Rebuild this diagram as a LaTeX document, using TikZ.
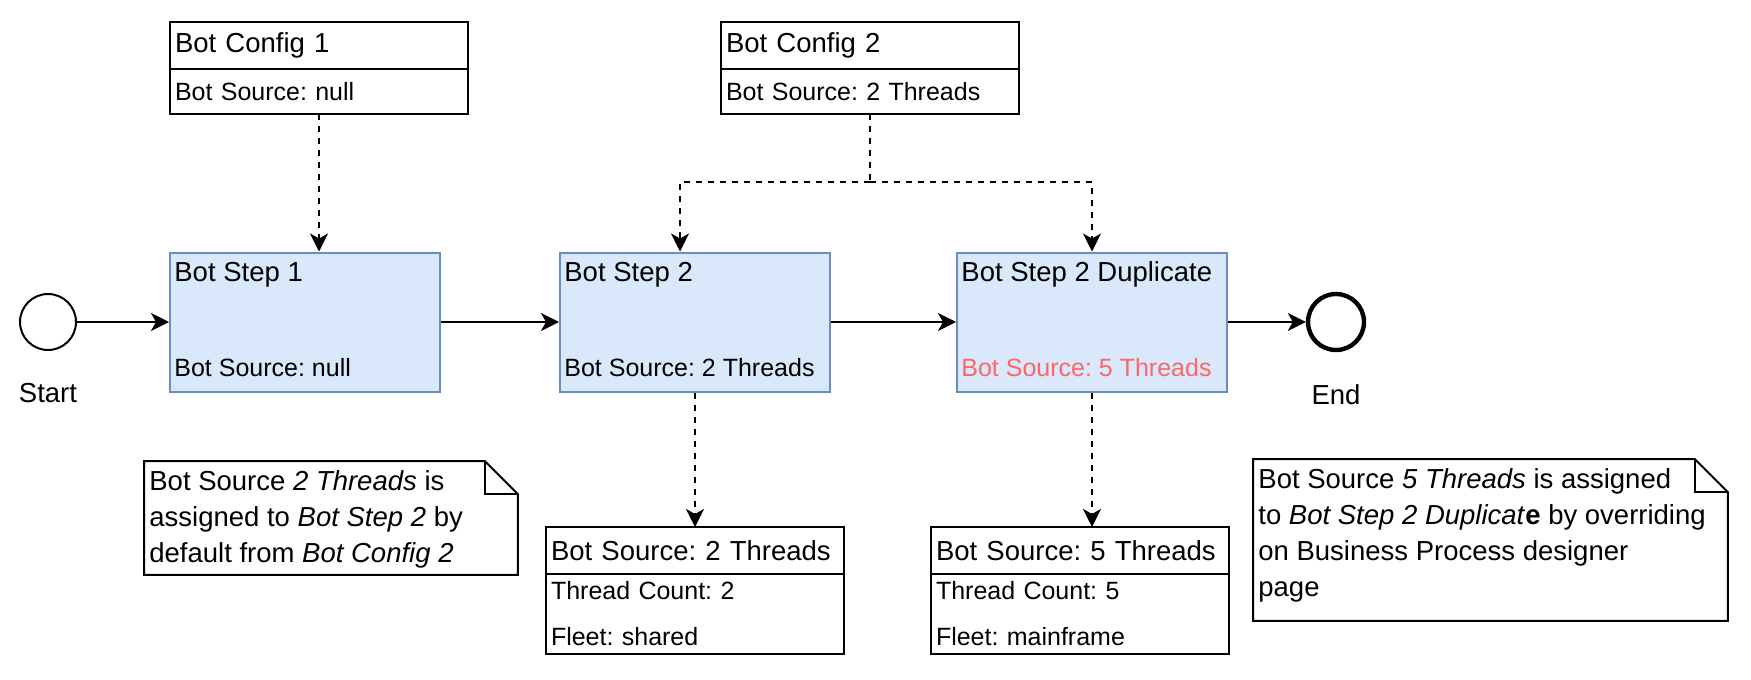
\documentclass[tikz,border=0pt]{standalone}
\usepackage{fontspec}
\setmainfont{Liberation Sans}
\frenchspacing
\usetikzlibrary{arrows.meta,positioning}

\definecolor{stepfill}{HTML}{DAE8FC}
\definecolor{stepline}{HTML}{6C8EBF}
\definecolor{override}{HTML}{FF6666}

\tikzset{
  big/.style={font=\fontsize{13.75}{18}\selectfont},
  small/.style={font=\fontsize{12.5}{23}\selectfont},
  box/.style={draw, line width=1pt, align=left, inner xsep=2.5pt, inner ysep=0pt, outer sep=0pt},
  cfghead/.style={box, big, text width=144pt, minimum height=23.5pt},
  cfgbody/.style={box, small, text width=144pt, minimum height=22.5pt},
  stepbox/.style={draw=stepline, fill=stepfill, line width=1pt, minimum width=135pt, minimum height=69.5pt},
  event/.style={circle, draw, line width=1pt, minimum size=28pt, inner sep=0pt},
  flow/.style={line width=1pt, -{Stealth[length=9pt, width=9pt, inset=2.5pt]}},
  assoc/.style={flow, dash pattern=on 3pt off 3pt},
  txt/.style={inner sep=0pt, anchor=west},
  note/.style={minimum width=#1, inner sep=0pt}
}

\begin{document}
\begin{tikzpicture}[x=0.5pt, y=-0.5pt]
 \useasboundingbox (0,0) rectangle (1751,680);

 % configs on top
 \node[cfghead, anchor=north west] (cfgAhead) at (170,22) {Bot Config 1};
 \node[cfgbody, anchor=north] (cfgAbody) at (cfgAhead.south) {Bot Source: null};
 \node[cfghead, anchor=north west] (cfgBhead) at (721,22) {Bot Config 2};
 \node[cfgbody, anchor=north] (cfgBbody) at (cfgBhead.south) {Bot Source: 2 Threads};

 % process
 \node[event] (start) at (48,322) {};
 \node[big, below=16pt of start, inner sep=0pt] (startlbl) {Start};
 \node[stepbox] (step1) at (305,322) {};
 \node[stepbox] (step2) at (695,322) {};
 \node[stepbox] (step3) at (1092,322) {};
 \node[event, line width=2.2pt] (end) at (1336,322) {};
 \node[big, below=16pt of end, inner sep=0pt] (endlbl) {End};

 \node[txt, big] (step1t) at ([xshift=2.5pt,yshift=-11.5pt]step1.north west) {Bot Step 1};
 \node[txt, small] (step1s) at ([xshift=2.5pt,yshift=12.5pt]step1.south west) {Bot Source: null};
 \node[txt, big] (step2t) at ([xshift=2.5pt,yshift=-11.5pt]step2.north west) {Bot Step 2};
 \node[txt, small] (step2s) at ([xshift=2.5pt,yshift=12.5pt]step2.south west) {Bot Source: 2 Threads};
 \node[txt, big] (step3t) at ([xshift=2.5pt,yshift=-11.5pt]step3.north west) {Bot Step 2 Duplicate};
 \node[txt, small, text=override] (step3s) at ([xshift=2.5pt,yshift=12.5pt]step3.south west) {Bot Source: 5 Threads};

 % bot sources
 \node[cfghead, anchor=north] (srcAhead) at (695,527) {Bot Source: 2 Threads};
 \node[cfgbody, anchor=north, minimum height=40pt] (srcAbody) at (srcAhead.south) {Thread Count: 2\\Fleet: shared};
 \node[cfghead, anchor=north west] (srcBhead) at (931,527) {Bot Source: 5 Threads};
 \node[cfgbody, anchor=north, minimum height=40pt] (srcBbody) at (srcBhead.south) {Thread Count: 5\\Fleet: mainframe};

 % notes
 \node[note=186.5pt, minimum height=56.5pt, anchor=north west] (noteA) at (144,461) {};
 \draw[line width=1pt] (noteA.north west) -- ([xshift=-16.5pt]noteA.north east) -- ([yshift=-16.5pt]noteA.north east)
   -- (noteA.south east) -- (noteA.south west) -- cycle;
 \draw[line width=1pt] ([xshift=-16.5pt]noteA.north east) -- ++(0,33) -- ([yshift=-16.5pt]noteA.north east);
 \node[big, inner sep=0pt, anchor=north west, align=left] (noteAt) at ([xshift=2.5pt,yshift=-4.5pt]noteA.north west)
   {Bot Source \textit{2 Threads} is\\assigned to \textit{Bot Step 2} by\\default from \textit{Bot Config 2}};

 \node[note=237pt, minimum height=80.5pt, anchor=north west] (noteB) at (1253,459) {};
 \draw[line width=1pt] (noteB.north west) -- ([xshift=-16.5pt]noteB.north east) -- ([yshift=-16.5pt]noteB.north east)
   -- (noteB.south east) -- (noteB.south west) -- cycle;
 \draw[line width=1pt] ([xshift=-16.5pt]noteB.north east) -- ++(0,33) -- ([yshift=-16.5pt]noteB.north east);
 \node[big, inner sep=0pt, anchor=north west, align=left] (noteBt) at ([xshift=2.5pt,yshift=-4.5pt]noteB.north west)
   {Bot Source \textit{5 Threads} is assigned\\to \textit{Bot Step 2 Duplicat}\textbf{e} by overriding\\on Business Process designer\\page};

 % connectors
 \draw[flow] (start) -- (step1);
 \draw[flow] (step1) -- (step2);
 \draw[flow] (step2) -- (step3);
 \draw[flow] (step3) -- (end);

 \draw[assoc] (cfgAbody.south) -- (cfgAbody.south |- step1.north);
 \coordinate (split) at (cfgBbody.south |- 0,182);
 \draw[line width=1pt, dash pattern=on 3pt off 3pt] (cfgBbody.south) -- (split);
 \draw[assoc] (split) -| ([xshift=-7.5pt]step2.north);
 \draw[assoc] (split) -| (step3.north);
 \draw[assoc] (step2.south) -- (srcAhead.north);
 \draw[assoc] (step3.south) -- (step3.south |- srcBhead.north);
\end{tikzpicture}
\end{document}
